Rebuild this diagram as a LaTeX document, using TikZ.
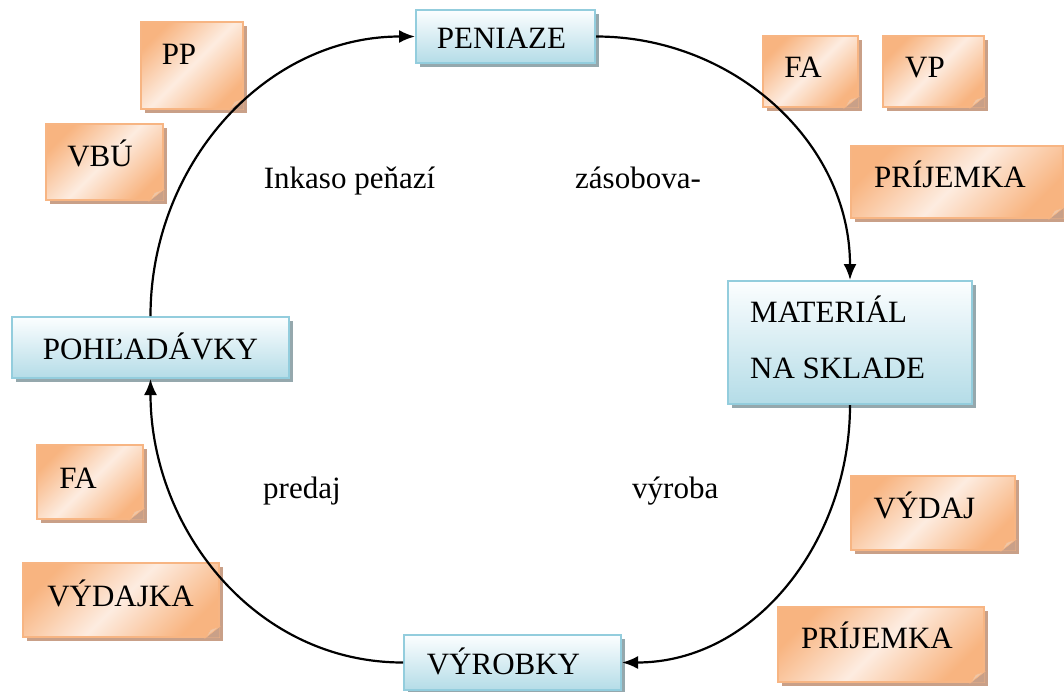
\documentclass[tikz,border=0pt]{standalone}
\usepackage{fontspec}
\setmainfont{Liberation Serif}
\usetikzlibrary{arrows.meta,shadows}
\definecolor{bluetop}{HTML}{FCFEFF}
\definecolor{bluebot}{HTML}{B4DCE7}
\definecolor{blueedge}{HTML}{93CDDD}
\definecolor{blueshadow}{HTML}{95A8AD}
\definecolor{orangedark}{HTML}{F8B480}
\definecolor{orangelight}{HTML}{FDECE0}
\definecolor{orangeedge}{HTML}{F7B583}
\definecolor{orangeshadow}{HTML}{C9A088}
\definecolor{foldcol}{HTML}{F0C6A5}
\tikzset{
  bigtext/.style={font=\fontsize{31}{56}\selectfont},
  flowbox/.style={draw=blueedge, line width=2pt, top color=bluetop, bottom color=bluebot,
    inner sep=0pt, bigtext, text height=24pt, text depth=0pt,
    drop shadow={shadow xshift=4pt, shadow yshift=-4pt, opacity=1, fill=blueshadow}},
  notebox/.style={draw=orangeedge, line width=1.2pt, top color=orangedark, bottom color=orangedark,
    middle color=orangelight, shading angle=45, inner sep=0pt,
    drop shadow={shadow xshift=4pt, shadow yshift=-4pt, opacity=1, fill=orangeshadow}},
  notetext/.style={bigtext, anchor=base, inner sep=0pt},
  flowarrow/.style={line width=2.2pt, -{Latex[length=16pt,width=13pt]}},
}
\newcommand\mynote[8]{%
  \node[notebox, minimum width=#4pt, minimum height=#5pt] (#1) at (#2,#3) {};
  \fill[orangeshadow] ([xshift=-14pt]#1.south east) -- (#1.south east) -- ([yshift=11pt]#1.south east) -- cycle;
  \filldraw[fill=foldcol, draw=orangeedge, line width=0.6pt] ([xshift=-14pt]#1.south east) -- ([yshift=11pt]#1.south east) -- ([xshift=-9pt,yshift=8pt]#1.south east) -- cycle;
  \node[notetext] (#1-t) at (#7,#8) {#6};
}
\begin{document}
\begin{tikzpicture}[x=1pt,y=-1pt]
\fill[white] (0,0) rectangle (1064,691);
\useasboundingbox (0,0) rectangle (1064,691);

% notes
\mynote{pp}{192}{65.5}{102}{87}{PP}{179}{64}
\mynote{vbu}{104.5}{162}{117}{76}{VBÚ}{100}{166}
\mynote{fa1}{810.5}{71.5}{95}{71}{FA}{803}{77}
\mynote{vp}{933.5}{71.5}{101}{71}{VP}{925}{77}
\mynote{prij1}{957}{182}{212}{72}{PRÍJEMKA}{950}{187}
\mynote{fa2}{90}{482}{106}{74}{FA}{78}{488}
\mynote{vydajka}{121}{600}{196}{74}{VÝDAJKA}{120.5}{606}
\mynote{vydaj}{933}{513}{164}{74}{VÝDAJ}{924.5}{518}
\mynote{prij2}{881}{644.5}{206}{75}{PRÍJEMKA}{877}{648}

% main boxes
\node[flowbox, minimum width=179pt, minimum height=53pt] (pen) at (505.5,36.5) {\hspace*{-8pt}PENIAZE};
\node[flowbox, minimum width=244pt, minimum height=123pt] (mat) at (850,342.5) {};
\node[notetext, anchor=base west] (mat-t1) at (750,322) {MATERIÁL};
\node[notetext, anchor=base west] (mat-t2) at (750,378) {NA SKLADE};
\node[flowbox, minimum width=217pt, minimum height=55pt] (vyr) at (512.5,662.5) {\hspace*{-18pt}VÝROBKY};
\node[flowbox, minimum width=277pt, minimum height=61pt] (poh) at (150.5,347.5) {POHĽADÁVKY};

% cycle arrows
\draw[flowarrow] (poh.north) to[out=90,in=180] (pen.west);
\draw[flowarrow] (pen.east) to[out=0,in=90] (mat.north);
\draw[flowarrow] (mat.south) to[out=-90,in=0] (vyr.east);
\draw[flowarrow] (vyr.west) to[out=180,in=-90] (poh.south);

% labels
\node[notetext] (l-ink) at (349.5,188) {Inkaso peňazí};
\node[notetext, anchor=base west] (l-zas) at (575,188) {zásobova-};
\begin{scope}
  \clip (240,440) rectangle (740,505);
  \node[notetext, anchor=base west] (l-pre) at (263,498) {predaj};
  \node[notetext, anchor=base west] (l-vyr) at (632,498) {výroba};
\end{scope}
\end{tikzpicture}
\end{document}
